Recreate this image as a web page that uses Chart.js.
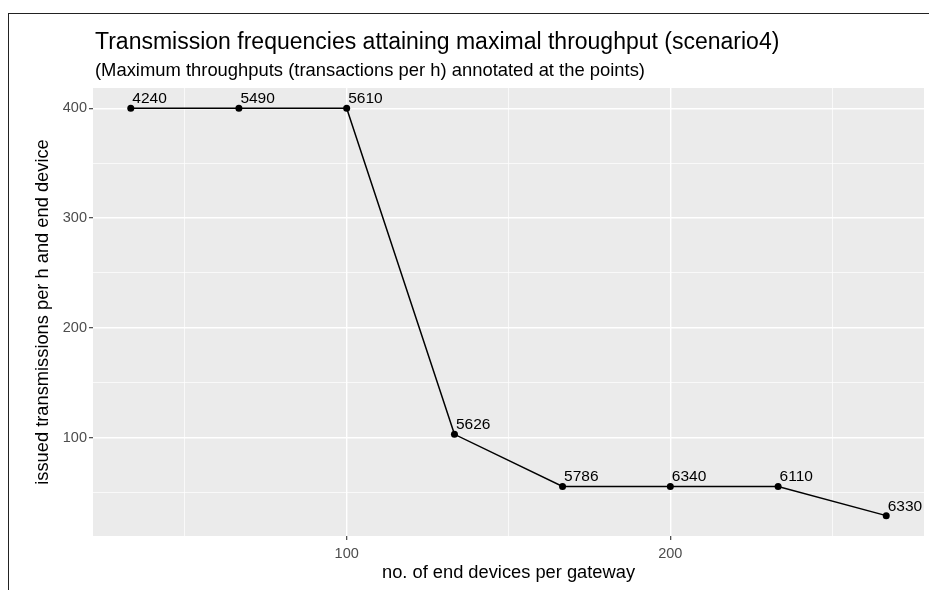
<!DOCTYPE html>
<html lang="en">
<head>
    <meta charset="UTF-8">
    <title>Transmission frequencies attaining maximal throughput (scenario4)</title>
    <script src="https://cdn.jsdelivr.net/npm/chart.js"></script>
    <style>
        html, body { margin: 0; padding: 0; background: #fff; }
        #wrap { position: relative; width: 929px; height: 590px; }
        #frame {
            position: absolute; left: 8px; top: 13px; right: 0; bottom: 0;
            border-top: 1.5px solid #222; border-left: 1.5px solid #222;
            pointer-events: none;
        }
    </style>
</head>
<body>
    <div id="wrap">
        <canvas id="freqChart" width="929" height="590"></canvas>
        <div id="frame"></div>
    </div>
    <script>
        const devices = [33.3, 66.7, 100, 133.3, 166.7, 200, 233.3, 266.7];
        const transmissions = [400, 400, 400, 102.9, 55.4, 55.4, 55.4, 28.8];
        const throughputs = [4240, 5490, 5610, 5626, 5786, 6340, 6110, 6330];
        const xTicks = [50, 100, 150, 200, 250];
        const xLabelled = [100, 200];
        const yTicks = [50, 100, 150, 200, 250, 300, 350, 400];
        const yLabelled = [100, 200, 300, 400];

        const FONT = "'Liberation Sans', Arial, sans-serif";

        // ggplot style 5% expansion of the data range
        function expand(vals) {
            const lo = Math.min(...vals), hi = Math.max(...vals);
            const pad = (hi - lo) * 0.05;
            return [lo - pad, hi + pad];
        }
        const [xMin, xMax] = expand(devices);
        const [yMin, yMax] = expand(transmissions);

        const panelBg = {
            id: 'panelBg',
            beforeDraw(chart) {
                const { ctx, chartArea: a } = chart;
                ctx.save();
                ctx.fillStyle = '#EBEBEB';
                ctx.fillRect(a.left, a.top, a.right - a.left, a.bottom - a.top);
                ctx.restore();
            }
        };

        const pointLabels = {
            id: 'pointLabels',
            afterDatasetsDraw(chart) {
                const { ctx } = chart;
                const meta = chart.getDatasetMeta(0);
                ctx.save();
                ctx.font = '15.5px ' + FONT;
                ctx.fillStyle = '#000';
                ctx.textAlign = 'left';
                ctx.textBaseline = 'alphabetic';
                meta.data.forEach((pt, i) => {
                    ctx.fillText(String(throughputs[i]), pt.x + 1.5, pt.y - 5);
                });
                ctx.restore();
            }
        };

        const titles = {
            id: 'titles',
            afterDraw(chart) {
                const { ctx, chartArea: a } = chart;
                ctx.save();
                ctx.fillStyle = '#000';
                ctx.textAlign = 'left';
                ctx.textBaseline = 'alphabetic';
                ctx.font = '23px ' + FONT;
                ctx.fillText('Transmission frequencies attaining maximal throughput (scenario4)', a.left + 2, 48.5);
                ctx.font = '18.4px ' + FONT;
                ctx.fillText('(Maximum throughputs (transactions per h) annotated at the points)', a.left + 2, 76);
                ctx.restore();
            }
        };

        function gridWidth(labelled) {
            return c => (c.tick && labelled.includes(c.tick.value)) ? 1.4 : 0.7;
        }
        function tickColour(labelled) {
            return c => (c.tick && labelled.includes(c.tick.value)) ? '#333333' : 'rgba(0,0,0,0)';
        }

        new Chart(document.getElementById('freqChart'), {
            type: 'line',
            data: {
                datasets: [{
                    data: devices.map((d, i) => ({ x: d, y: transmissions[i] })),
                    borderColor: '#000',
                    backgroundColor: '#000',
                    borderWidth: 1.5,
                    pointRadius: 3.5,
                    pointBorderWidth: 0,
                    pointBackgroundColor: '#000',
                    tension: 0,
                    clip: false
                }]
            },
            options: {
                responsive: false,
                animation: false,
                devicePixelRatio: 1,
                layout: { padding: { top: 88, right: 5, left: 0, bottom: 0 } },
                plugins: {
                    legend: { display: false },
                    tooltip: { enabled: false }
                },
                scales: {
                    x: {
                        type: 'linear',
                        min: xMin,
                        max: xMax,
                        afterFit(scale) { scale.height = 54; },
                        afterBuildTicks(scale) { scale.ticks = xTicks.map(v => ({ value: v })); },
                        border: { display: false },
                        grid: {
                            color: '#FFFFFF',
                            lineWidth: gridWidth(xLabelled),
                            drawTicks: true,
                            tickLength: 4,
                            tickWidth: 1.1,
                            tickColor: tickColour(xLabelled)
                        },
                        ticks: {
                            autoSkip: false,
                            maxRotation: 0,
                            padding: 5,
                            color: '#4D4D4D',
                            font: { family: FONT, size: 14.5 },
                            callback: v => xLabelled.includes(v) ? String(v) : ''
                        },
                        title: {
                            display: true,
                            text: 'no. of end devices per gateway',
                            color: '#000',
                            font: { family: FONT, size: 18.3 },
                            padding: { top: 0, bottom: 6.5 }
                        }
                    },
                    y: {
                        type: 'linear',
                        min: yMin,
                        max: yMax,
                        afterFit(scale) { scale.width = 93; },
                        afterBuildTicks(scale) { scale.ticks = yTicks.map(v => ({ value: v })); },
                        border: { display: false },
                        grid: {
                            color: '#FFFFFF',
                            lineWidth: gridWidth(yLabelled),
                            drawTicks: true,
                            tickLength: 4,
                            tickWidth: 1.1,
                            tickColor: tickColour(yLabelled)
                        },
                        ticks: {
                            autoSkip: false,
                            padding: 2,
                            color: '#4D4D4D',
                            font: { family: FONT, size: 14.5 },
                            callback: v => yLabelled.includes(v) ? String(v) : ''
                        },
                        title: {
                            display: true,
                            text: 'issued transmissions per h and end device',
                            color: '#000',
                            font: { family: FONT, size: 18.3 },
                            padding: { top: 32, bottom: 0 }
                        }
                    }
                }
            },
            plugins: [panelBg, pointLabels, titles]
        });
    </script>
</body>
</html>
